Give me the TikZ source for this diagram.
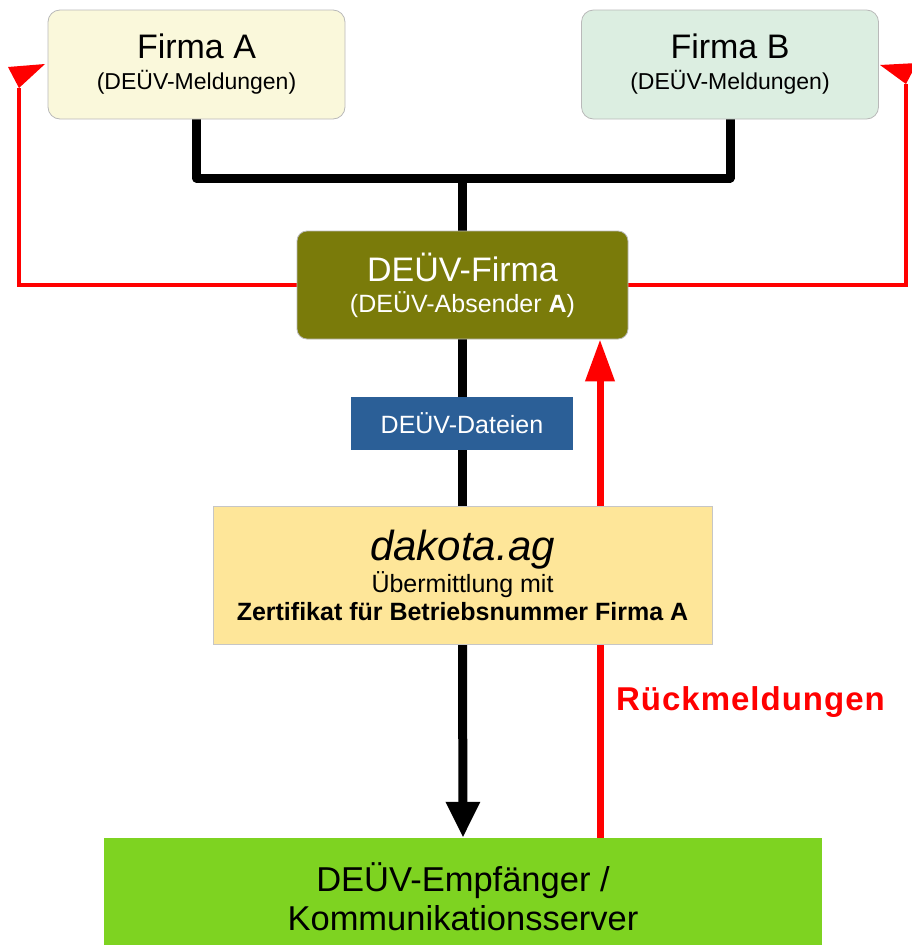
\documentclass[tikz,border=0pt]{standalone}
\usepackage{fontspec}
\setmainfont{Liberation Sans}
\usetikzlibrary{arrows.meta,backgrounds}

\definecolor{firmaA}{HTML}{FAF8DB}
\definecolor{firmaB}{HTML}{DCEEE1}
\definecolor{olive}{HTML}{7A7B0A}
\definecolor{dateiblue}{HTML}{2B5F97}
\definecolor{dakotagold}{HTML}{FEE699}
\definecolor{servergreen}{HTML}{7ED321}

\tikzset{
  firmbox/.style={draw=gray!55, line width=0.8pt, rounded corners=12pt,
    minimum width=297pt, minimum height=109pt, inner sep=0pt, align=center,
    font={\fontsize{34}{31}\selectfont\lineskiplimit=-50pt}},
  blackline/.style={line width=9pt, line join=round},
  redline/.style={red, line width=4.5pt},
  redarrow/.style={red, line width=7pt, -{Triangle[width=28pt,length=42pt]}}
}

\begin{document}
\begin{tikzpicture}[x=1pt, y=-1pt]
  \useasboundingbox (0,0) rectangle (911,945);

  % boxes
  \node[firmbox, fill=firmaA] (fa) at (196.5,64.5)
    {Firma A\\{\fontsize{23}{28}\selectfont (DEÜV-Meldungen)}};
  \node[firmbox, fill=firmaB] (fb) at (730,64.5)
    {Firma B\\{\fontsize{23}{28}\selectfont (DEÜV-Meldungen)}};
  \node[firmbox, fill=olive, text=white, rounded corners=10pt,
    minimum width=331pt, minimum height=108pt] (firma) at (462.5,285)
    {DEÜV-Firma\\{\fontsize{25}{28}\selectfont (DEÜV-Absender \textbf{A})}};
  \node[fill=dateiblue, text=white, minimum width=222pt, minimum height=53pt,
    inner sep=0pt, font=\fontsize{25}{28}\selectfont] (dateien) at (462,423.5)
    {DEÜV-Dateien};
  \node[draw=gray!45, line width=0.8pt, fill=dakotagold, minimum width=499pt,
    minimum height=138pt, inner sep=0pt, align=center,
    font={\fontsize{25}{28}\selectfont\lineskiplimit=-50pt}] (dakota) at (462.5,575)
    {{\fontsize{42}{28}\selectfont\itshape dakota.ag}\\[4pt]
     Übermittlung mit\\
     \textbf{Zertifikat für Betriebsnummer Firma A}};
  \node[fill=servergreen, minimum width=718pt, minimum height=118pt,
    inner sep=0pt, align=center,
    font={\fontsize{34.5}{39}\selectfont\lineskiplimit=-50pt}] (empf) at (463,897)
    {DEÜV-Empfänger /\\Kommunikationsserver};
  \node[anchor=base west, text=red, inner sep=0pt,
    font={\fontsize{33}{36}\selectfont\bfseries\addfontfeature{LetterSpace=3}}] (rueck)
    at (616,710) {Rückmeldungen};

  % connectors
  \coordinate (bus) at (462.5,178);
  \coordinate (rx) at (600,0);
  \coordinate (ltip) at (19,88);
  \coordinate (rtip) at (906,84);
  \begin{scope}[on background layer]
    \draw[blackline] (fa.south) |- (bus) -| (fb.south);
    \draw[blackline] (bus) -- (firma.north);
    \draw[blackline] (firma.south) -- (dakota.north);
    \draw[blackline, -{Triangle[width=32pt,length=36pt]}] (dakota.south) -- (empf.north);
    \draw[redarrow] (empf.north -| rx) -- (firma.south -| rx);
    \draw[redline] (firma.west) -| (ltip);
    \draw[redline] (firma.east) -| (rtip);
    \fill[red] (8,67) -- (45,64) -- (ltip) -- cycle;
    \fill[red] (917,63) -- (880,65) -- (rtip) -- cycle;
  \end{scope}
\end{tikzpicture}
\end{document}
